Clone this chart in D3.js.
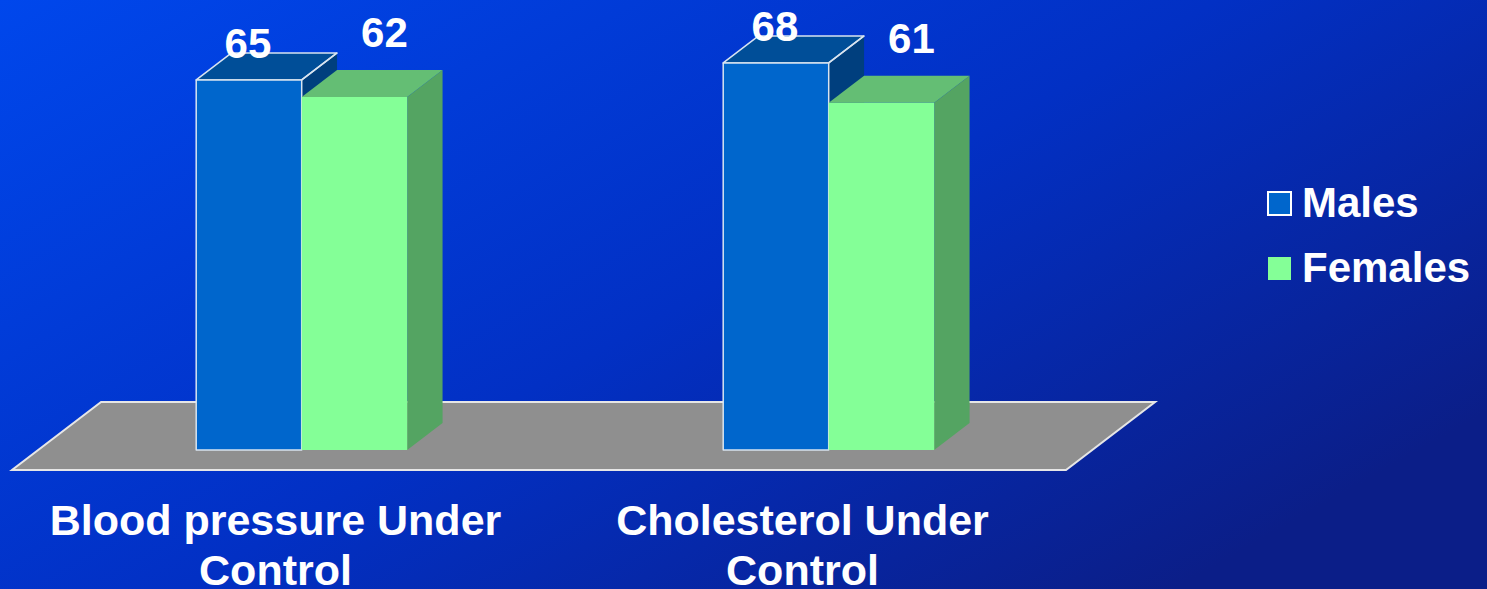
<!DOCTYPE html>
<html>
<head>
<meta charset="utf-8">
<script src="https://cdn.jsdelivr.net/npm/d3@7"></script>
<style>
  html, body { margin: 0; padding: 0; overflow: hidden; }
  svg { display: block; }
  text { font-family: "Liberation Sans", Arial, sans-serif; font-weight: bold; fill: #ffffff; }
</style>
</head>
<body>
<svg id="chart" width="1487" height="589"></svg>
<script>
// ---- data ----
const categories = ["Blood pressure Under Control", "Cholesterol Under Control"];
const seriesNames = ["Males", "Females"];
const males = [65, 68];
const females = [62, 61];

// ---- styles ----
const W = 1487, H = 589;
const colors = {
  Males:   { front: "#0066CC", top: "#004E98", side: "#003F7E", stroke: "#d8e4f0" },
  Females: { front: "#84FF97", top: "#64BE74", side: "#54A462", stroke: null }
};
const labelOffset = { Males: { dx: -1, dy: -22 }, Females: { dx: 30, dy: -50 } };

const svg = d3.select("#chart");
const defs = svg.append("defs");
const grad = defs.append("linearGradient").attr("id", "bg")
  .attr("x1", "0").attr("y1", "0").attr("x2", "1").attr("y2", "0.7");
grad.append("stop").attr("offset", "0%").attr("stop-color", "#0047EC");
grad.append("stop").attr("offset", "55%").attr("stop-color", "#0230C4");
grad.append("stop").attr("offset", "100%").attr("stop-color", "#0B1E88");
svg.append("rect").attr("width", W).attr("height", H).attr("fill", "url(#bg)");

// projection of depth: per unit depth move (kx, -1)
const kx = 1.31;
const floorFrontY = 470;
const floorDepth = 68;
const barZ0 = 20, barZ1 = 47;
const proj = (x, y, z) => [x + z * kx, y - z];

// scales
const x0 = d3.scaleBand().domain(categories).range([12, 1066]).padding(0);
const groupWidth = 211;
const x1 = d3.scaleBand().domain(seriesNames).range([0, groupWidth]).padding(0);
const yScale = d3.scaleLinear().domain([0, 70]).range([0, 398.5]); // height in px
const barBaseY = floorFrontY;

// floor
const fx0 = x0.range()[0], fx1 = x0.range()[1];
const floorPts = [proj(fx0, floorFrontY, 0), proj(fx1, floorFrontY, 0),
                  proj(fx1, floorFrontY, floorDepth), proj(fx0, floorFrontY, floorDepth)];
svg.append("polygon").attr("points", floorPts.map(p => p.join(",")).join(" "))
  .attr("fill", "#8F8F8F").attr("stroke", "#e6e6e6").attr("stroke-width", 2)
  .attr("stroke-linejoin", "miter");

const data = categories.map((c, i) => ({ cat: c, values: [
  { s: "Males", v: males[i] }, { s: "Females", v: females[i] } ] }));

const poly = (g, pts, fill, stroke) => g.append("polygon")
  .attr("points", pts.map(p => p.join(",")).join(" "))
  .attr("fill", fill)
  .attr("stroke", stroke || "none").attr("stroke-width", stroke ? 1.5 : 0)
  .attr("stroke-linejoin", "round");

const labels = [];
data.forEach(d => {
  const gx = x0(d.cat) + (x0.bandwidth() - groupWidth) / 2;
  d.values.forEach(b => {
    const c = colors[b.s];
    const xl = gx + x1(b.s), xr = xl + x1.bandwidth();
    const h = yScale(b.v);
    const yb = barBaseY, yt = barBaseY - h;
    const g = svg.append("g");
    const f = [proj(xl, yt, barZ0), proj(xr, yt, barZ0), proj(xr, yb, barZ0), proj(xl, yb, barZ0)];
    const t = [proj(xl, yt, barZ0), proj(xl, yt, barZ1), proj(xr, yt, barZ1), proj(xr, yt, barZ0)];
    const s = [proj(xr, yt, barZ0), proj(xr, yt, barZ1), proj(xr, yb, barZ1), proj(xr, yb, barZ0)];
    poly(g, s, c.side, null);
    poly(g, t, c.top, c.stroke);
    poly(g, f, c.front, c.stroke);
    if (c.stroke) {
      g.append("line").attr("x1", t[2][0]).attr("y1", t[2][1]).attr("x2", t[3][0]).attr("y2", t[3][1])
        .attr("stroke", c.stroke).attr("stroke-width", 1.5);
    }
    const fc = (f[0][0] + f[1][0]) / 2;
    labels.push({ x: fc + labelOffset[b.s].dx, y: f[0][1] + labelOffset[b.s].dy, v: b.v });
  });
});

svg.append("g").selectAll("text").data(labels).join("text")
  .attr("x", d => d.x).attr("y", d => d.y)
  .attr("text-anchor", "middle").attr("font-size", 42)
  .text(d => d.v);

// category labels (wrapped)
function wrap(textSel, width) {
  textSel.each(function() {
    const t = d3.select(this);
    const words = t.text().split(/\s+/);
    t.text(null);
    let line = [];
    const x = t.attr("x");
    let tspan = t.append("tspan").attr("x", x).attr("dy", 0);
    words.forEach(w => {
      line.push(w);
      tspan.text(line.join(" "));
      if (tspan.node().getComputedTextLength() > width && line.length > 1) {
        line.pop();
        tspan.text(line.join(" "));
        line = [w];
        tspan = t.append("tspan").attr("x", x).attr("dy", 50).text(w);
      }
    });
  });
}
svg.append("g").selectAll("text").data(categories).join("text")
  .attr("x", d => x0(d) + x0.bandwidth() / 2)
  .attr("y", 535)
  .attr("text-anchor", "middle").attr("font-size", 43)
  .text(d => d)
  .call(wrap, 480);

// legend
const legend = svg.append("g").attr("transform", "translate(1268,192)");
seriesNames.forEach((s, i) => {
  const g = legend.append("g").attr("transform", `translate(0,${i * 65})`);
  g.append("rect").attr("x", 0).attr("y", 0).attr("width", 23).attr("height", 23)
    .attr("fill", colors[s].front)
    .attr("stroke", s === "Males" ? "#ffffff" : "none").attr("stroke-width", 2);
  g.append("text").attr("x", 34).attr("y", 25).attr("font-size", 42).text(s);
});
</script>
</body>
</html>
